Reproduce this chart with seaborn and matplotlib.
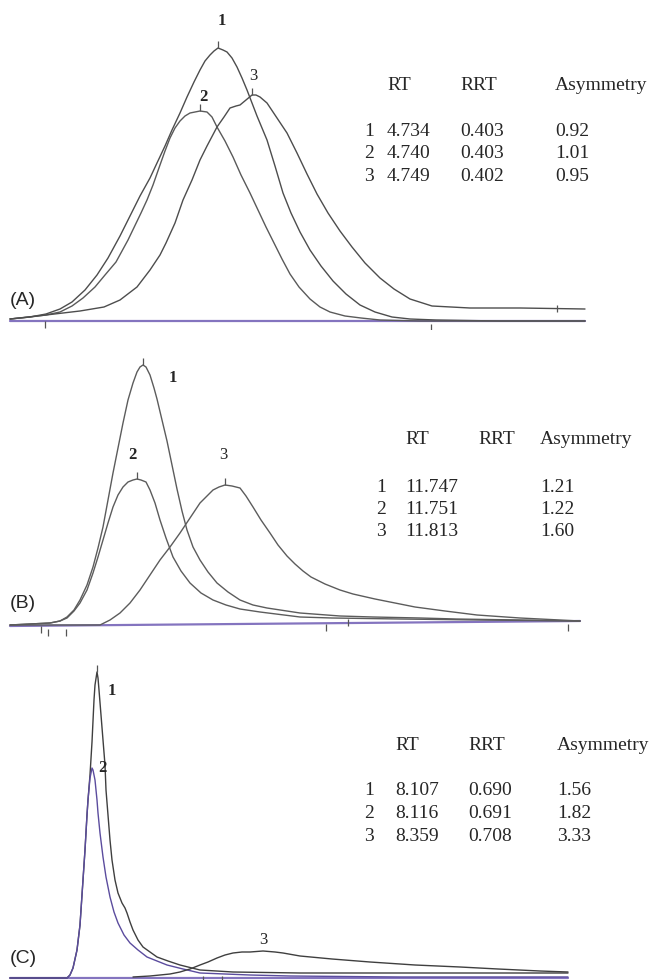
import numpy as np
import pandas as pd
import matplotlib
matplotlib.use("Agg")
import matplotlib.pyplot as plt
import seaborn as sns

# ---- panel A : x (scan position) and detector signal
a1_x = [10, 30, 46, 60, 72, 85, 97, 108, 120, 130, 140, 150, 157, 165, 172, 180, 187, 194, 200, 205, 210, 214, 218,
        223, 227, 232, 237, 242, 247, 252, 257, 262, 267, 275, 283, 291, 300, 310, 321, 333, 346, 360, 375, 392, 410, 436, 500, 585]
a1_y = [2, 4, 7, 12, 19, 31, 46, 63, 85, 105, 125, 143, 158, 175, 191, 208, 224, 239, 251, 260, 266, 270, 273,
        271, 269, 263, 254, 243, 231, 218, 205, 193, 181, 155, 128, 108, 89, 71, 55, 40, 27, 16, 9, 4, 2, 1, 0, 0]
a2_x = [10, 30, 46, 60, 72, 83, 95, 105, 116, 128, 141, 147, 153, 160, 165, 170, 175, 180, 185, 190, 195, 200, 207,
        212, 217, 225, 233, 241, 250, 258, 266, 274, 282, 290, 299, 310, 320, 330, 345, 361, 380, 420, 585]
a2_y = [2, 4, 6, 9, 15, 23, 34, 46, 59, 81, 108, 121, 136, 156, 170, 183, 193, 200, 205, 208, 209, 210, 209,
        204, 194, 180, 164, 146, 128, 111, 94, 78, 62, 47, 34, 22, 14, 9, 5, 3, 1, 0, 0]
a3_x = [10, 46, 80, 104, 120, 137, 150, 160, 166, 175, 183, 192, 200, 207, 217, 224, 230, 236, 240, 246, 252, 256, 260,
        267, 277, 287, 297, 307, 317, 328, 340, 352, 365, 380, 394, 410, 432, 470, 520, 585]
a3_y = [2, 6, 10, 14, 21, 34, 51, 66, 78, 98, 121, 141, 161, 175, 194, 204, 213, 215, 216, 221, 226, 226, 224,
        218, 203, 188, 168, 147, 127, 108, 90, 74, 58, 43, 32, 22, 15, 13, 13, 12]

# ---- panel B
b1_x = [10, 30, 50, 60, 67, 74, 80, 87, 93, 98, 103, 108, 113, 118, 123, 128, 133, 137, 140, 143, 146, 150, 154, 157,
        162, 167, 172, 177, 182, 187, 193, 200, 208, 217, 228, 240, 253, 267, 300, 340, 373, 420, 456, 520, 580]
b1_y = [0, 1, 2, 4, 8, 15, 25, 40, 58, 77, 98, 125, 152, 177, 202, 225, 242, 253, 258, 260, 258, 250, 237, 226,
        205, 184, 160, 136, 114, 95, 78, 65, 53, 42, 33, 25, 20, 17, 12, 9, 8, 7, 6, 5, 4]
b2_x = [10, 30, 50, 60, 67, 74, 80, 87, 93, 98, 103, 108, 113, 118, 123, 128, 133, 137, 141, 146, 150, 155, 160, 166,
        173, 181, 190, 201, 213, 226, 240, 260, 300, 332, 400, 480, 580]
b2_y = [0, 1, 2, 4, 7, 14, 22, 35, 52, 68, 85, 102, 118, 130, 138, 143, 145, 146, 145, 143, 135, 122, 105, 87,
        68, 54, 42, 32, 25, 20, 16, 13, 8, 7, 6, 5, 4]
b3_x = [10, 60, 100, 110, 120, 130, 140, 150, 160, 170, 180, 190, 200, 207, 213, 219, 225, 232, 240, 246, 253, 261,
        270, 278, 287, 295, 303, 311, 325, 340, 353, 375, 395, 415, 445, 477, 520, 580]
b3_y = [0, 0, 0, 5, 12, 22, 35, 50, 65, 78, 92, 107, 122, 129, 135, 138, 140, 139, 137, 129, 118, 105,
        92, 80, 69, 61, 54, 48, 41, 35, 31, 26, 22, 18, 14, 10, 7, 4]

# ---- panel C
c1_x = [10, 40, 67, 70, 73, 77, 80, 83, 85, 87, 88, 90, 92, 94, 95, 97, 98, 99, 101, 103, 105, 106, 108, 110, 112,
        115, 118, 122, 125, 127, 130, 133, 138, 143, 150, 157, 168, 180, 200, 233, 300, 400, 568]
c1_y = [0, 0, 0, 3, 10, 28, 53, 98, 128, 163, 178, 203, 236, 278, 293, 306, 300, 288, 263, 238, 213, 188, 163, 138, 118,
        98, 85, 75, 70, 65, 56, 48, 38, 31, 26, 21, 17, 13, 8, 6, 5, 5, 5]
c2_x = [10, 40, 67, 70, 73, 77, 80, 83, 85, 87, 88, 90, 92, 93, 95, 97, 98, 100, 103, 106, 110, 114, 118, 124, 130,
        138, 147, 157, 167, 183, 200, 250, 290, 400, 568]
c2_y = [0, 0, 0, 3, 10, 28, 53, 98, 128, 163, 178, 200, 210, 208, 198, 178, 165, 145, 121, 101, 81, 66, 55, 43, 35,
        28, 21, 17, 13, 9, 5, 3, 2, 1, 1]
c3_x = [133, 150, 160, 170, 180, 190, 200, 208, 217, 225, 233, 242, 250, 263, 275, 283, 300, 332, 370, 415, 460, 498, 540, 568]
c3_y = [1, 2, 3, 4, 6, 9, 13, 16, 20, 23, 25, 26, 26, 27, 26, 25, 22, 19, 16, 13, 11, 9, 7, 6]

# baselines and integration marks
base_a_x, base_a_y = [10, 585], [0, 0]
base_b_x, base_b_y = [10, 580], [-1, 4]
base_c_x, base_c_y = [10, 568], [0, 0]
marks_a = [(45, -4), (431, -7), (557, 12)]
marks_b = [(41, -5), (48, -8), (66, -8), (326, -3), (348, 2), (568, -3)]
marks_c = [(203, -2), (222, -2)]

# result tables
peaks = ["1", "2", "3"]
rt_a = ["4.734", "4.740", "4.749"]
rrt_a = ["0.403", "0.403", "0.402"]
asym_a = ["0.92", "1.01", "0.95"]
rt_b = ["11.747", "11.751", "11.813"]
rrt_b = ["", "", ""]
asym_b = ["1.21", "1.22", "1.60"]
rt_c = ["8.107", "8.116", "8.359"]
rrt_c = ["0.690", "0.691", "0.708"]
asym_c = ["1.56", "1.82", "3.33"]


def frame(traces):
    parts = []
    for lab, xs, ys in traces:
        parts.append(pd.DataFrame({"x": xs, "y": ys, "peak": lab}))
    return pd.concat(parts, ignore_index=True)


sns.set_theme(style="white")
plt.rcParams["font.family"] = ["Liberation Serif", "DejaVu Serif"]

fig = plt.figure(figsize=(6.51, 9.80), dpi=100)
H = 980.0
# panel boxes in pixel rows (top, bottom) and the baseline row
boxes = {"A": (0, 330, 321), "B": (330, 640, 625), "C": (640, 980, 978)}

panels = {
    "A": dict(df=frame([("1", a1_x, a1_y), ("2", a2_x, a2_y), ("3", a3_x, a3_y)]),
              colors={"1": "#4d4d4d", "2": "#5a5a5a", "3": "#4d4d4d"},
              base=(base_a_x, base_a_y), marks=marks_a,
              labels={"1": (222, 21, "bold"), "2": (203, 97, "bold"), "3": (253, 76, "normal")},
              table=(rt_a, rrt_a, asym_a), cols=(364, 387, 460, 555), hy=86, rows=(132, 154, 176),
              letter=(10, 300)),
    "B": dict(df=frame([("1", b1_x, b1_y), ("2", b2_x, b2_y), ("3", b3_x, b3_y)]),
              colors={"1": "#5c5c5c", "2": "#5c5c5c", "3": "#5c5c5c"},
              base=(base_b_x, base_b_y), marks=marks_b,
              labels={"1": (173, 378, "bold"), "2": (132, 455, "bold"), "3": (223, 455, "normal")},
              table=(rt_b, rrt_b, asym_b), cols=(376, 405, 478, 540), hy=440, rows=(487, 509, 531),
              letter=(10, 603)),
    "C": dict(df=frame([("1", c1_x, c1_y), ("2", c2_x, c2_y), ("3", c3_x, c3_y)]),
              colors={"1": "#3f3f3f", "2": "#5b4c9e", "3": "#3f3f3f"},
              base=(base_c_x, base_c_y), marks=marks_c,
              labels={"1": (112, 691, "bold"), "2": (102, 768, "bold"), "3": (263, 940, "normal")},
              table=(rt_c, rrt_c, asym_c), cols=(364, 395, 468, 557), hy=745, rows=(790, 813, 836),
              letter=(10, 958)),
}

for name, p in panels.items():
    top, bot, basepx = boxes[name]
    ax = fig.add_axes([0, 1 - bot / H, 1, (bot - top) / H])
    ax.set_xlim(0, 651)
    ax.set_ylim(-(bot - basepx), basepx - top)
    ax.set_axis_off()

    sns.lineplot(data=p["df"], x="x", y="y", hue="peak", palette=p["colors"],
                 estimator=None, sort=False, legend=False, linewidth=1.0, ax=ax)
    bx, by = p["base"]
    ax.plot(bx, by, color="#8474bf", linewidth=1.6, zorder=1)
    for mx, my in p["marks"]:
        ax.vlines(mx, my - 3, my + 4, color="#555555", linewidth=0.9)

    # tick at each peak apex, then the peak number
    for lab, g in p["df"].groupby("peak"):
        i = g["y"].idxmax()
        px, py = g.loc[i, "x"], g.loc[i, "y"]
        if name != "C" or lab == "1":
            ax.vlines(px, py, py + 7, color="#555555", linewidth=0.9)
        tx, ty, w = p["labels"][lab]
        ax.text(tx, basepx - ty, lab, ha="center", va="center", fontsize=12, fontweight=w)

    c0, c1, c2, c3 = p["cols"]
    ax.text(c1, basepx - p["hy"], "RT", fontsize=14, va="center")
    ax.text(c2, basepx - p["hy"], "RRT", fontsize=14, va="center")
    ax.text(c3, basepx - p["hy"], "Asymmetry", fontsize=14, va="center")
    rt, rrt, asym = p["table"]
    for k, ry in enumerate(p["rows"]):
        yy = basepx - ry
        ax.text(c0, yy, peaks[k], fontsize=14, va="center")
        ax.text(c1, yy, rt[k], fontsize=14, va="center")
        ax.text(c2, yy, rrt[k], fontsize=14, va="center")
        ax.text(c3, yy, asym[k], fontsize=14, va="center")

    lx, ly = p["letter"]
    ax.text(lx, basepx - ly, "(" + name + ")", fontsize=14, va="center",
            family=["Liberation Sans", "DejaVu Sans"])

fig.savefig("out.png", dpi=100, facecolor="white")
